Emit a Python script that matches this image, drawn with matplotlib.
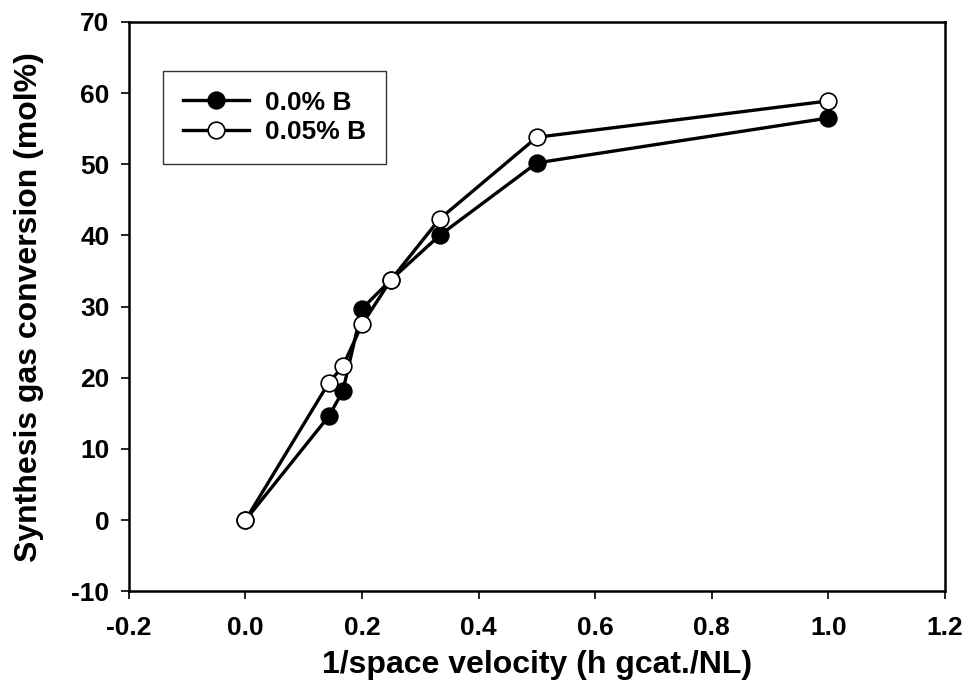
import matplotlib.pyplot as plt

plt.rcParams['font.family'] = ['Liberation Sans', 'DejaVu Sans']
plt.rcParams['font.weight'] = 'bold'
plt.rcParams['axes.unicode_minus'] = False

inv_sv = [0.0, 0.143, 0.167, 0.2, 0.25, 0.333, 0.5, 1.0]
conv_0b = [0.0, 14.6, 18.1, 29.7, 33.8, 40.0, 50.2, 56.5]
conv_005b = [0.0, 19.3, 21.6, 27.5, 33.8, 42.3, 53.8, 58.9]
labels = ['0.0% B', '0.05% B']

fig = plt.figure(figsize=(9.69, 6.86), dpi=100)
ax = fig.add_axes([0.133, 0.138, 0.842, 0.830])

ax.plot(inv_sv, conv_0b, '-o', color='black', lw=2.4, ms=12,
        mfc='black', mec='black', mew=1.2, label=labels[0])
ax.plot(inv_sv, conv_005b, '-o', color='black', lw=2.4, ms=12,
        mfc='white', mec='black', mew=1.2, label=labels[1])

ax.set_xlim(-0.2, 1.2)
ax.set_ylim(-10, 70)
ax.set_xticks([-0.2, 0.0, 0.2, 0.4, 0.6, 0.8, 1.0, 1.2])
ax.set_yticks(range(-10, 71, 10))
ax.set_xticklabels(['%.1f' % v for v in ax.get_xticks()])
ax.tick_params(direction='out', length=6, width=1.2, labelsize=19)
ax.tick_params(axis='x', pad=12)
ax.tick_params(axis='y', pad=8)
for s in ax.spines.values():
    s.set_linewidth(1.8)

ax.set_xlabel('1/space velocity (h gcat./NL)', fontsize=23, fontweight='bold', labelpad=7)
ax.set_ylabel('Synthesis gas conversion (mol%)', fontsize=23, fontweight='bold', labelpad=20)

leg = ax.legend(loc='upper left', bbox_to_anchor=(0.042, 0.914), fontsize=19,
                frameon=True, fancybox=False, edgecolor='black',
                handlelength=2.5, handletextpad=0.6, borderpad=0.75,
                labelspacing=0.2, borderaxespad=0)
leg.get_frame().set_linewidth(1.0)

fig.savefig('out.png', dpi=100)
